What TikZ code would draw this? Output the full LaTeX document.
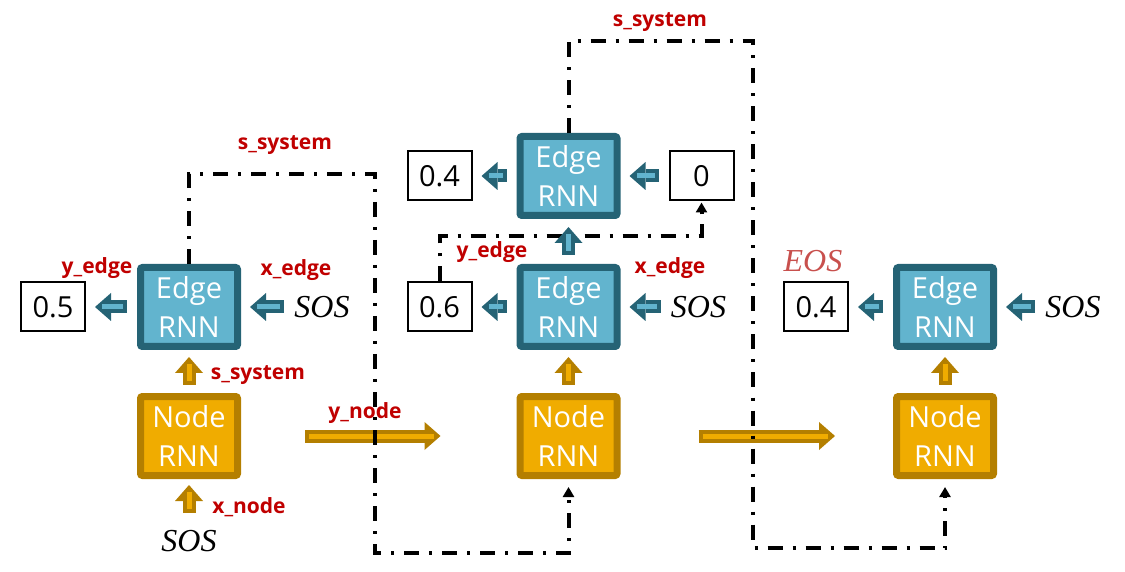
\documentclass[tikz,border=0pt]{standalone}
\usepackage{fontspec}
\setmainfont{Open Sans}
\newfontfamily\tokenfont{Liberation Serif}
\usepackage{tikz}
\usetikzlibrary{arrows.meta,positioning}
\definecolor{edgeblue}{HTML}{62B4CE}
\definecolor{edgedark}{HTML}{256375}
\definecolor{nodegold}{HTML}{F0AC00}
\definecolor{nodedark}{HTML}{B47F00}
\definecolor{labelred}{HTML}{C00000}
\definecolor{eosred}{HTML}{C8504D}

\begin{document}
\begin{tikzpicture}[x=0.5pt,y=-0.5pt,node distance=21.5pt,
    edgebox/.style={draw=edgedark,fill=edgeblue,line width=3.5pt,rounded corners=1pt,minimum width=48.5pt,minimum height=39.5pt,
      inner sep=0pt,align=center,text=white,font=\fontsize{14.5}{19.5}\selectfont},
    nodebox/.style={edgebox,draw=nodedark,fill=nodegold},
    numbox/.style={draw=black,line width=1pt,minimum width=32pt,minimum height=24.5pt,inner sep=0pt,font=\fontsize{14.5}{16}\selectfont},
    token/.style={inner sep=0pt,font=\tokenfont\itshape\fontsize{16}{18}\selectfont},
    lbl/.style={text=labelred,inner sep=0pt,font=\bfseries\fontsize{10.5}{12}\selectfont},
    blockarr/.style n args={4}{draw=#1,line width=6.5pt,-{Triangle[length=8pt,width=14pt,line width=0pt]},
      shorten <=#3,shorten >=#4,
      postaction={draw=#2,line width=2.5pt,-,shorten <=#3+2pt,shorten >=#4+3.5pt}},
    edgearrow/.style={blockarr={edgedark}{edgeblue}{5pt}{4.5pt}},
    nodearrow/.style={blockarr={nodedark}{nodegold}{4pt}{3.5pt}},
    loopline/.style={black,line width=2pt,dash pattern=on 7.5pt off 5pt on 1.5pt off 5pt,
      -{Triangle[length=5pt,width=5.5pt]}}]
  \useasboundingbox (0,0) rectangle (1125,572);

  % rnn boxes
  \node[nodebox] (n1) at (189,436) {Node\\RNN};
  \node[nodebox] (n2) at (568.5,436) {Node\\RNN};
  \node[nodebox] (n3) at (945,436) {Node\\RNN};
  \node[edgebox,above=of n1] (e1) {Edge\\RNN};
  \node[edgebox,above=of n2] (e2) {Edge\\RNN};
  \node[edgebox,above=22.5pt of e2] (e3) {Edge\\RNN};
  \node[edgebox,above=of n3] (e4) {Edge\\RNN};

  % outputs and inputs
  \node[numbox,left=25.5pt of e1] (o5) {0.5};
  \node[numbox,left=22pt of e2] (o6) {0.6};
  \node[numbox,left=22pt of e3] (o4a) {0.4};
  \node[numbox,right=24pt of e3] (o0) {0};
  \node[numbox,left=22pt of e4] (o4b) {0.4};
  \node[token,right=26.5pt of e1] (s1) {SOS};
  \node[token,right=25pt of e2] (s2) {SOS};
  \node[token,right=24pt of e4] (s3) {SOS};
  \node[token,below=25.5pt of n1] (s0) {SOS};
  \node[token,text=eosred] (eos) at (813,261) {EOS};

  % labels
  \node[lbl] (lsys1) at (285,145) {s\_system};
  \node[lbl] (lsys2) at (660,22) {s\_system};
  \node[lbl] (lsys3) at (258,375) {s\_system};
  \node[lbl] (lye1) at (97,268) {y\_edge};
  \node[lbl] (lxe1) at (296,270) {x\_edge};
  \node[lbl] (lye2) at (492,252) {y\_edge};
  \node[lbl] (lxe2) at (670,268) {x\_edge};
  \node[lbl] (lxn) at (249,507) {x\_node};
  \node[lbl] (lyn) at (365,413) {y\_node};

  % block arrows
  \draw[edgearrow] (e1.west) -- (o5.east);
  \draw[edgearrow] (s1.west) -- (e1.east);
  \draw[edgearrow] (e2.west) -- (o6.east);
  \draw[edgearrow] (s2.west) -- (e2.east);
  \draw[edgearrow] (e3.west) -- (o4a.east);
  \draw[edgearrow] (o0.west) -- (e3.east);
  \draw[edgearrow] (e4.west) -- (o4b.east);
  \draw[edgearrow] (s3.west) -- (e4.east);
  \draw[nodearrow] (n1.north) -- (e1.south);
  \draw[nodearrow] (n2.north) -- (e2.south);
  \draw[nodearrow] (n3.north) -- (e4.south);
  \draw[blockarr={nodedark}{nodegold}{8.5pt}{3pt}] (s0.north) -- (n1.south);
  \draw[blockarr={nodedark}{nodegold}{32pt}{38pt}] (n1.east) -- (n2.west);
  \draw[blockarr={nodedark}{nodegold}{39pt}{29pt}] (n2.east) -- (n3.west);

  % hidden state loops
  \draw[loopline,shorten >=4pt] (e1.north) |- (375,174) -- (375,553) -| (n2.south);
  \draw[loopline,shorten >=4pt] (e3.north) |- (753,41) -- (753,548) -| (n3.south);
  \draw[loopline,shorten >=0.5pt] (o6.north) -- ++(0,-45) -| (o0.south);

  \draw[blockarr={edgedark}{edgeblue}{4.5pt}{4pt}] (e2.north) -- (e3.south);
\end{tikzpicture}
\end{document}
